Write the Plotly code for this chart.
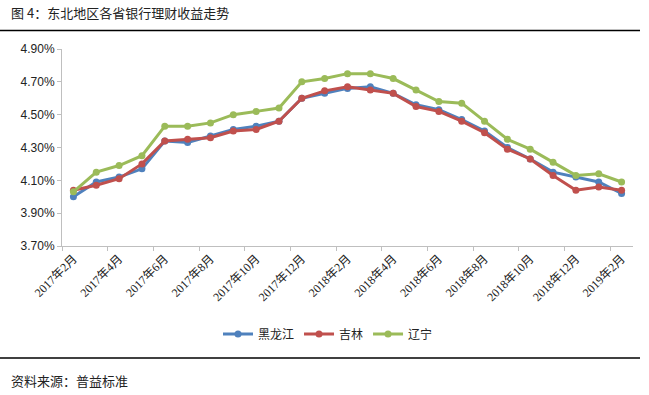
import plotly.graph_objects as go

months = ["2017年2月", "2017年3月", "2017年4月", "2017年5月", "2017年6月", "2017年7月",
          "2017年8月", "2017年9月", "2017年10月", "2017年11月", "2017年12月", "2018年1月",
          "2018年2月", "2018年3月", "2018年4月", "2018年5月", "2018年6月", "2018年7月",
          "2018年8月", "2018年9月", "2018年10月", "2018年11月", "2018年12月", "2019年1月",
          "2019年2月"]

heilongjiang = [4.00, 4.09, 4.12, 4.17, 4.34, 4.33, 4.37, 4.41, 4.43, 4.46, 4.60, 4.63,
                4.66, 4.67, 4.63, 4.56, 4.53, 4.47, 4.40, 4.30, 4.23, 4.15, 4.12, 4.09, 4.02]
jilin = [4.04, 4.07, 4.11, 4.20, 4.34, 4.35, 4.36, 4.40, 4.41, 4.46, 4.60, 4.645,
         4.67, 4.65, 4.63, 4.55, 4.52, 4.46, 4.39, 4.29, 4.23, 4.13, 4.04, 4.06, 4.04]
liaoning = [4.03, 4.15, 4.19, 4.25, 4.43, 4.43, 4.45, 4.50, 4.52, 4.54, 4.70, 4.72,
            4.75, 4.75, 4.72, 4.65, 4.58, 4.57, 4.46, 4.35, 4.29, 4.21, 4.13, 4.14, 4.09]

series_names = ["黑龙江", "吉林", "辽宁"]
colors = ["#4F81BD", "#C0504D", "#9BBB59"]
y_ticks = [3.70, 3.90, 4.10, 4.30, 4.50, 4.70, 4.90]

W, H = 649, 395
ML, MR, MT, MB = 62, 16, 49, 149
PW = W - ML - MR
PH = H - MT - MB

def px_x(p):
    return (p - ML) / PW

def px_y(p):
    return (H - MB - p) / PH

n = len(months)
xs = list(range(n))

fig = go.Figure()
for name, vals, col in zip(series_names, [heilongjiang, jilin, liaoning], colors):
    fig.add_trace(go.Scatter(
        x=xs, y=vals, name=name, mode="lines+markers",
        line=dict(color=col, width=3),
        marker=dict(color=col, size=7),
    ))

cjk = "Noto Sans CJK SC"
fig.update_layout(
    width=W, height=H,
    margin=dict(l=ML, r=MR, t=MT, b=MB, pad=0),
    paper_bgcolor="white", plot_bgcolor="white",
    showlegend=True,
    legend=dict(orientation="h", x=px_x(328), xanchor="center",
                y=px_y(334), yanchor="middle",
                font=dict(family=cjk, size=12, color="#222222"),
                itemwidth=30, tracegroupgap=0),
    xaxis=dict(
        range=[-0.5, n - 0.5],
        tickmode="array", tickvals=xs[::2], ticktext=months[::2],
        tickangle=-45, ticks="", showgrid=False, zeroline=False,
        showline=True, linecolor="#BFBFBF", linewidth=1,
        tickfont=dict(family="Liberation Serif, " + cjk, size=12, color="#222222"),
        minor=dict(tickmode="array", tickvals=[i - 0.5 for i in xs[::2]],
                   ticks="outside", ticklen=4, tickcolor="#BFBFBF", tickwidth=1,
                   showgrid=False),
    ),
    yaxis=dict(
        range=[3.70, 4.90],
        tickmode="array", tickvals=y_ticks,
        ticktext=["%.2f%%" % v for v in y_ticks],
        ticks="outside", ticklen=4, tickcolor="#BFBFBF",
        showgrid=False, zeroline=False,
        showline=True, linecolor="#BFBFBF", linewidth=1,
        tickfont=dict(family="Liberation Sans", size=12, color="#222222"),
    ),
    shapes=[
        dict(type="line", xref="paper", yref="paper",
             x0=px_x(0), x1=px_x(640), y0=px_y(30.5), y1=px_y(30.5),
             line=dict(color="black", width=1.5)),
        dict(type="line", xref="paper", yref="paper",
             x0=px_x(0), x1=px_x(640), y0=px_y(358), y1=px_y(358),
             line=dict(color="black", width=1.5)),
    ],
    annotations=[
        dict(text="图 4：东北地区各省银行理财收益走势", xref="paper", yref="paper",
             x=px_x(9), y=px_y(13), xanchor="left", yanchor="middle",
             showarrow=False, font=dict(family=cjk, size=13, color="#222222")),
        dict(text="资料来源：普益标准", xref="paper", yref="paper",
             x=px_x(9), y=px_y(380), xanchor="left", yanchor="middle",
             showarrow=False, font=dict(family=cjk, size=13, color="#222222")),
    ],
)

fig.write_html("out.html", config={"displayModeBar": False},
               post_script="document.body.style.margin='0';")
